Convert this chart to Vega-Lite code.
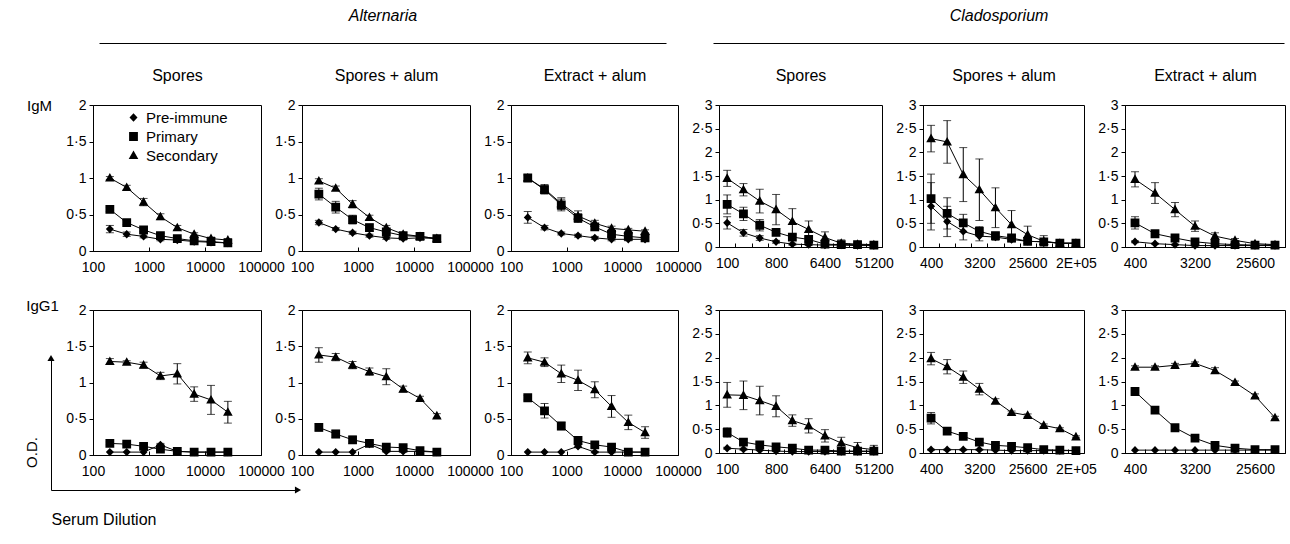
{
"$schema": "https://vega.github.io/schema/vega-lite/v6.json",
"padding": {"left": 23, "top": 6, "right": 5, "bottom": 5},
"config": {
  "font": "Liberation Sans",
  "view": {"stroke": "black", "strokeWidth": 1},
  "axis": {"grid": false, "domainColor": "black", "tickColor": "black", "labelColor": "black", "titleColor": "black", "labelFont": "Liberation Sans", "titleFont": "Liberation Sans", "labelFontSize": 14, "titleFontWeight": "normal", "domainWidth": 1, "tickWidth": 1},
  "legend": {"labelFont": "Liberation Sans", "labelColor": "black"}
},
"datasets": {
  "p1": [
    {"series":"Pre-immune","dil":200,"od":0.30,"err":0.05},{"series":"Pre-immune","dil":400,"od":0.23,"err":0.03},{"series":"Pre-immune","dil":800,"od":0.20,"err":0.02},{"series":"Pre-immune","dil":1600,"od":0.16,"err":0.02},{"series":"Pre-immune","dil":3200,"od":0.15,"err":0.02},{"series":"Pre-immune","dil":6400,"od":0.13,"err":0.01},{"series":"Pre-immune","dil":12800,"od":0.12,"err":0.01},{"series":"Pre-immune","dil":25600,"od":0.11,"err":0.01},
    {"series":"Primary","dil":200,"od":0.57,"err":0.03},{"series":"Primary","dil":400,"od":0.39,"err":0.03},{"series":"Primary","dil":800,"od":0.29,"err":0.02},{"series":"Primary","dil":1600,"od":0.21,"err":0.03},{"series":"Primary","dil":3200,"od":0.17,"err":0.02},{"series":"Primary","dil":6400,"od":0.14,"err":0.02},{"series":"Primary","dil":12800,"od":0.13,"err":0.02},{"series":"Primary","dil":25600,"od":0.11,"err":0.02},
    {"series":"Secondary","dil":200,"od":1.00,"err":0.02},{"series":"Secondary","dil":400,"od":0.87,"err":0.03},{"series":"Secondary","dil":800,"od":0.67,"err":0.05},{"series":"Secondary","dil":1600,"od":0.47,"err":0.04},{"series":"Secondary","dil":3200,"od":0.32,"err":0.03},{"series":"Secondary","dil":6400,"od":0.23,"err":0.02},{"series":"Secondary","dil":12800,"od":0.17,"err":0.02},{"series":"Secondary","dil":25600,"od":0.15,"err":0.02}
  ],
  "p2": [
    {"series":"Pre-immune","dil":200,"od":0.39,"err":0.03},{"series":"Pre-immune","dil":400,"od":0.30,"err":0.02},{"series":"Pre-immune","dil":800,"od":0.25,"err":0.02},{"series":"Pre-immune","dil":1600,"od":0.21,"err":0.02},{"series":"Pre-immune","dil":3200,"od":0.18,"err":0.02},{"series":"Pre-immune","dil":6400,"od":0.17,"err":0.02},{"series":"Pre-immune","dil":12800,"od":0.18,"err":0.02},{"series":"Pre-immune","dil":25600,"od":0.17,"err":0.02},
    {"series":"Primary","dil":200,"od":0.78,"err":0.08},{"series":"Primary","dil":400,"od":0.60,"err":0.08},{"series":"Primary","dil":800,"od":0.43,"err":0.06},{"series":"Primary","dil":1600,"od":0.32,"err":0.05},{"series":"Primary","dil":3200,"od":0.26,"err":0.03},{"series":"Primary","dil":6400,"od":0.21,"err":0.02},{"series":"Primary","dil":12800,"od":0.20,"err":0.02},{"series":"Primary","dil":25600,"od":0.17,"err":0.02},
    {"series":"Secondary","dil":200,"od":0.96,"err":0.03},{"series":"Secondary","dil":400,"od":0.86,"err":0.03},{"series":"Secondary","dil":800,"od":0.64,"err":0.05},{"series":"Secondary","dil":1600,"od":0.46,"err":0.03},{"series":"Secondary","dil":3200,"od":0.32,"err":0.03},{"series":"Secondary","dil":6400,"od":0.23,"err":0.02},{"series":"Secondary","dil":12800,"od":0.20,"err":0.02},{"series":"Secondary","dil":25600,"od":0.17,"err":0.02}
  ],
  "p3": [
    {"series":"Pre-immune","dil":200,"od":0.46,"err":0.08},{"series":"Pre-immune","dil":400,"od":0.32,"err":0.03},{"series":"Pre-immune","dil":800,"od":0.24,"err":0.02},{"series":"Pre-immune","dil":1600,"od":0.21,"err":0.02},{"series":"Pre-immune","dil":3200,"od":0.18,"err":0.02},{"series":"Pre-immune","dil":6400,"od":0.16,"err":0.02},{"series":"Pre-immune","dil":12800,"od":0.16,"err":0.02},{"series":"Pre-immune","dil":25600,"od":0.16,"err":0.02},
    {"series":"Primary","dil":200,"od":1.00,"err":0.04},{"series":"Primary","dil":400,"od":0.84,"err":0.06},{"series":"Primary","dil":800,"od":0.63,"err":0.08},{"series":"Primary","dil":1600,"od":0.45,"err":0.06},{"series":"Primary","dil":3200,"od":0.33,"err":0.04},{"series":"Primary","dil":6400,"od":0.23,"err":0.03},{"series":"Primary","dil":12800,"od":0.20,"err":0.03},{"series":"Primary","dil":25600,"od":0.18,"err":0.03},
    {"series":"Secondary","dil":200,"od":1.00,"err":0.04},{"series":"Secondary","dil":400,"od":0.85,"err":0.06},{"series":"Secondary","dil":800,"od":0.65,"err":0.08},{"series":"Secondary","dil":1600,"od":0.48,"err":0.07},{"series":"Secondary","dil":3200,"od":0.38,"err":0.04},{"series":"Secondary","dil":6400,"od":0.31,"err":0.03},{"series":"Secondary","dil":12800,"od":0.29,"err":0.02},{"series":"Secondary","dil":25600,"od":0.27,"err":0.02}
  ],
  "p4": [
    {"series":"Pre-immune","dil":100,"od":0.51,"err":0.13},{"series":"Pre-immune","dil":200,"od":0.30,"err":0.07},{"series":"Pre-immune","dil":400,"od":0.19,"err":0.05},{"series":"Pre-immune","dil":800,"od":0.11,"err":0.03},{"series":"Pre-immune","dil":1600,"od":0.06,"err":0.02},{"series":"Pre-immune","dil":3200,"od":0.05,"err":0.02},{"series":"Pre-immune","dil":6400,"od":0.04,"err":0.01},{"series":"Pre-immune","dil":12800,"od":0.04,"err":0.01},{"series":"Pre-immune","dil":25600,"od":0.03,"err":0.01},{"series":"Pre-immune","dil":51200,"od":0.03,"err":0.01},
    {"series":"Primary","dil":100,"od":0.90,"err":0.20},{"series":"Primary","dil":200,"od":0.70,"err":0.14},{"series":"Primary","dil":400,"od":0.46,"err":0.12},{"series":"Primary","dil":800,"od":0.31,"err":0.07},{"series":"Primary","dil":1600,"od":0.21,"err":0.06},{"series":"Primary","dil":3200,"od":0.16,"err":0.05},{"series":"Primary","dil":6400,"od":0.06,"err":0.03},{"series":"Primary","dil":12800,"od":0.05,"err":0.02},{"series":"Primary","dil":25600,"od":0.05,"err":0.02},{"series":"Primary","dil":51200,"od":0.04,"err":0.02},
    {"series":"Secondary","dil":100,"od":1.45,"err":0.17},{"series":"Secondary","dil":200,"od":1.21,"err":0.13},{"series":"Secondary","dil":400,"od":0.97,"err":0.25},{"series":"Secondary","dil":800,"od":0.79,"err":0.32},{"series":"Secondary","dil":1600,"od":0.54,"err":0.27},{"series":"Secondary","dil":3200,"od":0.37,"err":0.18},{"series":"Secondary","dil":6400,"od":0.20,"err":0.12},{"series":"Secondary","dil":12800,"od":0.08,"err":0.07},{"series":"Secondary","dil":25600,"od":0.06,"err":0.04},{"series":"Secondary","dil":51200,"od":0.05,"err":0.03}
  ],
  "p5": [
    {"series":"Pre-immune","dil":400,"od":0.86,"err":0.50},{"series":"Pre-immune","dil":800,"od":0.54,"err":0.32},{"series":"Pre-immune","dil":1600,"od":0.33,"err":0.18},{"series":"Pre-immune","dil":3200,"od":0.23,"err":0.10},{"series":"Pre-immune","dil":6400,"od":0.21,"err":0.07},{"series":"Pre-immune","dil":12800,"od":0.16,"err":0.05},{"series":"Pre-immune","dil":25600,"od":0.12,"err":0.04},{"series":"Pre-immune","dil":51200,"od":0.11,"err":0.03},{"series":"Pre-immune","dil":102400,"od":0.08,"err":0.02},{"series":"Pre-immune","dil":204800,"od":0.08,"err":0.02},
    {"series":"Primary","dil":400,"od":1.02,"err":0.52},{"series":"Primary","dil":800,"od":0.71,"err":0.33},{"series":"Primary","dil":1600,"od":0.51,"err":0.18},{"series":"Primary","dil":3200,"od":0.33,"err":0.10},{"series":"Primary","dil":6400,"od":0.24,"err":0.07},{"series":"Primary","dil":12800,"od":0.19,"err":0.06},{"series":"Primary","dil":25600,"od":0.12,"err":0.05},{"series":"Primary","dil":51200,"od":0.11,"err":0.04},{"series":"Primary","dil":102400,"od":0.08,"err":0.03},{"series":"Primary","dil":204800,"od":0.08,"err":0.02},
    {"series":"Secondary","dil":400,"od":2.29,"err":0.28},{"series":"Secondary","dil":800,"od":2.22,"err":0.45},{"series":"Secondary","dil":1600,"od":1.53,"err":0.57},{"series":"Secondary","dil":3200,"od":1.21,"err":0.65},{"series":"Secondary","dil":6400,"od":0.83,"err":0.42},{"series":"Secondary","dil":12800,"od":0.47,"err":0.30},{"series":"Secondary","dil":25600,"od":0.26,"err":0.18},{"series":"Secondary","dil":51200,"od":0.12,"err":0.12},{"series":"Secondary","dil":102400,"od":0.08,"err":0.05},{"series":"Secondary","dil":204800,"od":0.08,"err":0.03}
  ],
  "p6": [
    {"series":"Pre-immune","dil":400,"od":0.11,"err":0.02},{"series":"Pre-immune","dil":800,"od":0.07,"err":0.01},{"series":"Pre-immune","dil":1600,"od":0.05,"err":0.01},{"series":"Pre-immune","dil":3200,"od":0.03,"err":0.01},{"series":"Pre-immune","dil":6400,"od":0.03,"err":0.01},{"series":"Pre-immune","dil":12800,"od":0.03,"err":0.01},{"series":"Pre-immune","dil":25600,"od":0.03,"err":0.01},{"series":"Pre-immune","dil":51200,"od":0.03,"err":0.01},
    {"series":"Primary","dil":400,"od":0.51,"err":0.13},{"series":"Primary","dil":800,"od":0.28,"err":0.05},{"series":"Primary","dil":1600,"od":0.19,"err":0.03},{"series":"Primary","dil":3200,"od":0.11,"err":0.03},{"series":"Primary","dil":6400,"od":0.07,"err":0.02},{"series":"Primary","dil":12800,"od":0.05,"err":0.02},{"series":"Primary","dil":25600,"od":0.04,"err":0.01},{"series":"Primary","dil":51200,"od":0.04,"err":0.01},
    {"series":"Secondary","dil":400,"od":1.43,"err":0.16},{"series":"Secondary","dil":800,"od":1.14,"err":0.22},{"series":"Secondary","dil":1600,"od":0.79,"err":0.15},{"series":"Secondary","dil":3200,"od":0.44,"err":0.11},{"series":"Secondary","dil":6400,"od":0.23,"err":0.07},{"series":"Secondary","dil":12800,"od":0.14,"err":0.04},{"series":"Secondary","dil":25600,"od":0.07,"err":0.03},{"series":"Secondary","dil":51200,"od":0.05,"err":0.02}
  ],
  "p7": [
    {"series":"Pre-immune","dil":200,"od":0.04,"err":0},{"series":"Pre-immune","dil":400,"od":0.04,"err":0},{"series":"Pre-immune","dil":800,"od":0.04,"err":0},{"series":"Pre-immune","dil":1600,"od":0.14,"err":0.02},{"series":"Pre-immune","dil":3200,"od":0.05,"err":0.01},{"series":"Pre-immune","dil":6400,"od":0.04,"err":0},{"series":"Pre-immune","dil":12800,"od":0.04,"err":0},{"series":"Pre-immune","dil":25600,"od":0.04,"err":0},
    {"series":"Primary","dil":200,"od":0.16,"err":0.02},{"series":"Primary","dil":400,"od":0.15,"err":0.02},{"series":"Primary","dil":800,"od":0.12,"err":0.02},{"series":"Primary","dil":1600,"od":0.08,"err":0.02},{"series":"Primary","dil":3200,"od":0.05,"err":0.01},{"series":"Primary","dil":6400,"od":0.04,"err":0.01},{"series":"Primary","dil":12800,"od":0.04,"err":0.01},{"series":"Primary","dil":25600,"od":0.04,"err":0.01},
    {"series":"Secondary","dil":200,"od":1.29,"err":0.04},{"series":"Secondary","dil":400,"od":1.28,"err":0.02},{"series":"Secondary","dil":800,"od":1.24,"err":0.04},{"series":"Secondary","dil":1600,"od":1.09,"err":0.05},{"series":"Secondary","dil":3200,"od":1.12,"err":0.14},{"series":"Secondary","dil":6400,"od":0.84,"err":0.10},{"series":"Secondary","dil":12800,"od":0.76,"err":0.20},{"series":"Secondary","dil":25600,"od":0.59,"err":0.15}
  ],
  "p8": [
    {"series":"Pre-immune","dil":200,"od":0.04,"err":0},{"series":"Pre-immune","dil":400,"od":0.04,"err":0},{"series":"Pre-immune","dil":800,"od":0.04,"err":0},{"series":"Pre-immune","dil":1600,"od":0.15,"err":0.02},{"series":"Pre-immune","dil":3200,"od":0.05,"err":0.01},{"series":"Pre-immune","dil":6400,"od":0.05,"err":0.01},{"series":"Pre-immune","dil":12800,"od":0.05,"err":0.01},{"series":"Pre-immune","dil":25600,"od":0.04,"err":0.01},
    {"series":"Primary","dil":200,"od":0.38,"err":0.05},{"series":"Primary","dil":400,"od":0.29,"err":0.05},{"series":"Primary","dil":800,"od":0.21,"err":0.05},{"series":"Primary","dil":1600,"od":0.16,"err":0.04},{"series":"Primary","dil":3200,"od":0.11,"err":0.03},{"series":"Primary","dil":6400,"od":0.10,"err":0.03},{"series":"Primary","dil":12800,"od":0.06,"err":0.02},{"series":"Primary","dil":25600,"od":0.04,"err":0.02},
    {"series":"Secondary","dil":200,"od":1.38,"err":0.10},{"series":"Secondary","dil":400,"od":1.35,"err":0.05},{"series":"Secondary","dil":800,"od":1.24,"err":0.05},{"series":"Secondary","dil":1600,"od":1.15,"err":0.05},{"series":"Secondary","dil":3200,"od":1.08,"err":0.11},{"series":"Secondary","dil":6400,"od":0.91,"err":0.04},{"series":"Secondary","dil":12800,"od":0.78,"err":0.03},{"series":"Secondary","dil":25600,"od":0.54,"err":0.03}
  ],
  "p9": [
    {"series":"Pre-immune","dil":200,"od":0.04,"err":0},{"series":"Pre-immune","dil":400,"od":0.04,"err":0},{"series":"Pre-immune","dil":800,"od":0.04,"err":0},{"series":"Pre-immune","dil":1600,"od":0.12,"err":0.02},{"series":"Pre-immune","dil":3200,"od":0.04,"err":0.01},{"series":"Pre-immune","dil":6400,"od":0.04,"err":0.01},{"series":"Pre-immune","dil":12800,"od":0.04,"err":0.01},{"series":"Pre-immune","dil":25600,"od":0.04,"err":0.01},
    {"series":"Primary","dil":200,"od":0.79,"err":0.03},{"series":"Primary","dil":400,"od":0.61,"err":0.10},{"series":"Primary","dil":800,"od":0.40,"err":0.05},{"series":"Primary","dil":1600,"od":0.20,"err":0.04},{"series":"Primary","dil":3200,"od":0.14,"err":0.03},{"series":"Primary","dil":6400,"od":0.11,"err":0.03},{"series":"Primary","dil":12800,"od":0.04,"err":0.02},{"series":"Primary","dil":25600,"od":0.04,"err":0.02},
    {"series":"Secondary","dil":200,"od":1.34,"err":0.08},{"series":"Secondary","dil":400,"od":1.28,"err":0.06},{"series":"Secondary","dil":800,"od":1.12,"err":0.12},{"series":"Secondary","dil":1600,"od":1.03,"err":0.14},{"series":"Secondary","dil":3200,"od":0.90,"err":0.11},{"series":"Secondary","dil":6400,"od":0.67,"err":0.15},{"series":"Secondary","dil":12800,"od":0.45,"err":0.10},{"series":"Secondary","dil":25600,"od":0.31,"err":0.08}
  ],
  "p10": [
    {"series":"Pre-immune","dil":100,"od":0.10,"err":0.02},{"series":"Pre-immune","dil":200,"od":0.08,"err":0.02},{"series":"Pre-immune","dil":400,"od":0.06,"err":0.01},{"series":"Pre-immune","dil":800,"od":0.04,"err":0.01},{"series":"Pre-immune","dil":1600,"od":0.03,"err":0.01},{"series":"Pre-immune","dil":3200,"od":0.03,"err":0.01},{"series":"Pre-immune","dil":6400,"od":0.03,"err":0.01},{"series":"Pre-immune","dil":12800,"od":0.03,"err":0.01},{"series":"Pre-immune","dil":25600,"od":0.03,"err":0.01},{"series":"Pre-immune","dil":51200,"od":0.03,"err":0.01},
    {"series":"Primary","dil":100,"od":0.43,"err":0.10},{"series":"Primary","dil":200,"od":0.23,"err":0.06},{"series":"Primary","dil":400,"od":0.17,"err":0.04},{"series":"Primary","dil":800,"od":0.13,"err":0.04},{"series":"Primary","dil":1600,"od":0.10,"err":0.03},{"series":"Primary","dil":3200,"od":0.06,"err":0.02},{"series":"Primary","dil":6400,"od":0.06,"err":0.02},{"series":"Primary","dil":12800,"od":0.04,"err":0.02},{"series":"Primary","dil":25600,"od":0.04,"err":0.02},{"series":"Primary","dil":51200,"od":0.04,"err":0.02},
    {"series":"Secondary","dil":100,"od":1.22,"err":0.26},{"series":"Secondary","dil":200,"od":1.21,"err":0.30},{"series":"Secondary","dil":400,"od":1.10,"err":0.30},{"series":"Secondary","dil":800,"od":0.98,"err":0.22},{"series":"Secondary","dil":1600,"od":0.68,"err":0.12},{"series":"Secondary","dil":3200,"od":0.57,"err":0.15},{"series":"Secondary","dil":6400,"od":0.36,"err":0.13},{"series":"Secondary","dil":12800,"od":0.21,"err":0.12},{"series":"Secondary","dil":25600,"od":0.11,"err":0.11},{"series":"Secondary","dil":51200,"od":0.07,"err":0.09}
  ],
  "p11": [
    {"series":"Pre-immune","dil":400,"od":0.07,"err":0.01},{"series":"Pre-immune","dil":800,"od":0.07,"err":0.01},{"series":"Pre-immune","dil":1600,"od":0.07,"err":0.01},{"series":"Pre-immune","dil":3200,"od":0.07,"err":0.01},{"series":"Pre-immune","dil":6400,"od":0.06,"err":0.01},{"series":"Pre-immune","dil":12800,"od":0.05,"err":0.01},{"series":"Pre-immune","dil":25600,"od":0.05,"err":0.01},{"series":"Pre-immune","dil":51200,"od":0.05,"err":0.01},{"series":"Pre-immune","dil":102400,"od":0.05,"err":0.01},{"series":"Pre-immune","dil":204800,"od":0.05,"err":0.01},
    {"series":"Primary","dil":400,"od":0.73,"err":0.12},{"series":"Primary","dil":800,"od":0.46,"err":0.07},{"series":"Primary","dil":1600,"od":0.35,"err":0.06},{"series":"Primary","dil":3200,"od":0.23,"err":0.05},{"series":"Primary","dil":6400,"od":0.16,"err":0.04},{"series":"Primary","dil":12800,"od":0.14,"err":0.04},{"series":"Primary","dil":25600,"od":0.11,"err":0.03},{"series":"Primary","dil":51200,"od":0.07,"err":0.02},{"series":"Primary","dil":102400,"od":0.06,"err":0.02},{"series":"Primary","dil":204800,"od":0.05,"err":0.02},
    {"series":"Secondary","dil":400,"od":1.98,"err":0.13},{"series":"Secondary","dil":800,"od":1.81,"err":0.15},{"series":"Secondary","dil":1600,"od":1.59,"err":0.13},{"series":"Secondary","dil":3200,"od":1.34,"err":0.12},{"series":"Secondary","dil":6400,"od":1.09,"err":0.05},{"series":"Secondary","dil":12800,"od":0.85,"err":0.03},{"series":"Secondary","dil":25600,"od":0.79,"err":0.03},{"series":"Secondary","dil":51200,"od":0.58,"err":0.03},{"series":"Secondary","dil":102400,"od":0.51,"err":0.02},{"series":"Secondary","dil":204800,"od":0.34,"err":0.02}
  ],
  "p12": [
    {"series":"Pre-immune","dil":400,"od":0.06,"err":0},{"series":"Pre-immune","dil":800,"od":0.06,"err":0},{"series":"Pre-immune","dil":1600,"od":0.06,"err":0},{"series":"Pre-immune","dil":3200,"od":0.06,"err":0},{"series":"Pre-immune","dil":6400,"od":0.06,"err":0},{"series":"Pre-immune","dil":12800,"od":0.06,"err":0},{"series":"Pre-immune","dil":25600,"od":0.06,"err":0},{"series":"Pre-immune","dil":51200,"od":0.06,"err":0},
    {"series":"Primary","dil":400,"od":1.29,"err":0.02},{"series":"Primary","dil":800,"od":0.90,"err":0.02},{"series":"Primary","dil":1600,"od":0.53,"err":0.02},{"series":"Primary","dil":3200,"od":0.31,"err":0.02},{"series":"Primary","dil":6400,"od":0.16,"err":0.02},{"series":"Primary","dil":12800,"od":0.10,"err":0.02},{"series":"Primary","dil":25600,"od":0.07,"err":0.01},{"series":"Primary","dil":51200,"od":0.07,"err":0.01},
    {"series":"Secondary","dil":400,"od":1.80,"err":0.03},{"series":"Secondary","dil":800,"od":1.80,"err":0.03},{"series":"Secondary","dil":1600,"od":1.84,"err":0.04},{"series":"Secondary","dil":3200,"od":1.88,"err":0.03},{"series":"Secondary","dil":6400,"od":1.73,"err":0.06},{"series":"Secondary","dil":12800,"od":1.48,"err":0.03},{"series":"Secondary","dil":25600,"od":1.20,"err":0.04},{"series":"Secondary","dil":51200,"od":0.74,"err":0.03}
  ]
},
"columns": 6,
"spacing": {"row": 59, "column": 41},
"bounds": "flush",
"resolve": {"legend": {"shape": "independent"}},
"concat": [
  {"width":168,"height":146,"data":{"name":"p1"},
   "encoding":{"y":{"field":"od","type":"quantitative","scale":{"domain":[0,2]},"axis":{"values":[0,0.5,1,1.5,2],"format":"~g","labelExpr":"replace(datum.label, '.', '·')","tickSize":4,"labelPadding":3,"title":"IgM","titleAngle":0,"titleX":-54,"titleY":0,"titleAlign":"center","titleBaseline":"middle","titleFontSize":15}}},
   "layer":[
     {"encoding":{"x":{"field":"dil","type":"quantitative","scale":{"type":"log","domain":[100,100000]},"axis":{"values":[100,1000,10000,100000],"format":"d","labelFlush":false,"labelOverlap":false,"tickSize":-4,"labelPadding":13,"title":null}}},
      "layer":[
        {"mark":{"type":"line","color":"black","strokeWidth":1},"encoding":{"detail":{"field":"series","type":"nominal"}}},
        {"transform":[{"filter":"datum.err > 0"}],"mark":{"type":"errorbar","color":"black","ticks":{"size":8}},"encoding":{"yError":{"field":"err"}}},
        {"mark":{"type":"point","filled":true,"color":"black","opacity":1,"size":64},"encoding":{"shape":{"field":"series","type":"nominal","scale":{"domain":["Pre-immune","Primary","Secondary"],"range":["M-1.9,0H1.9M0,-1.05L1,0L0,1.05L-1,0Z","M-1.9,0H1.9M-1.1,-1.1H1.1V1.1H-1.1Z","M-1.9,0H1.9M0,-1.25L1.2,0.9H-1.2Z"]},
          "legend":{"orient":"none","legendX":33,"legendY":5,"title":null,"symbolSize":64,"symbolFillColor":"black","symbolStrokeColor":"black","symbolStrokeWidth":1,"labelFontSize":15,"labelOffset":5,"rowPadding":3,"padding":0,"labelColor":"black",
            "encode":{"symbols":{"update":{"stroke":{"value":"black"},"strokeWidth":{"value":1},"fill":{"value":"black"}}}}}}}}
      ]},
     {"data":{"values":[{}]},"mark":{"type":"point","opacity":0},"encoding":{"x":{"datum":0.5,"type":"quantitative","scale":{"domain":[0,1]},"axis":{"orient":"top","domain":false,"ticks":false,"labels":false,"grid":false,"title":"Spores","titleFontSize":16,"titleFontWeight":"normal","titlePadding":22}}}}
   ],
   "resolve":{"scale":{"x":"independent"},"axis":{"x":"independent"}}},

  {"width":168,"height":146,"data":{"name":"p2"},
   "encoding":{"y":{"field":"od","type":"quantitative","scale":{"domain":[0,2]},"axis":{"values":[0,0.5,1,1.5,2],"format":"~g","labelExpr":"replace(datum.label, '.', '·')","tickSize":4,"labelPadding":3,"title":null}}},
   "layer":[
     {"encoding":{"x":{"field":"dil","type":"quantitative","scale":{"type":"log","domain":[100,100000]},"axis":{"values":[100,1000,10000,100000],"format":"d","labelFlush":false,"labelOverlap":false,"tickSize":-4,"labelPadding":13,"title":null}}},
      "layer":[
        {"mark":{"type":"line","color":"black","strokeWidth":1},"encoding":{"detail":{"field":"series","type":"nominal"}}},
        {"transform":[{"filter":"datum.err > 0"}],"mark":{"type":"errorbar","color":"black","ticks":{"size":8}},"encoding":{"yError":{"field":"err"}}},
        {"mark":{"type":"point","filled":true,"color":"black","opacity":1,"size":64},"encoding":{"shape":{"field":"series","type":"nominal","scale":{"domain":["Pre-immune","Primary","Secondary"],"range":["M-1.9,0H1.9M0,-1.05L1,0L0,1.05L-1,0Z","M-1.9,0H1.9M-1.1,-1.1H1.1V1.1H-1.1Z","M-1.9,0H1.9M0,-1.25L1.2,0.9H-1.2Z"]},"legend":null}}}
      ]},
     {"data":{"values":[{}]},"mark":{"type":"point","opacity":0},"encoding":{"x":{"datum":0.5,"type":"quantitative","scale":{"domain":[0,1]},"axis":{"orient":"top","domain":false,"ticks":false,"labels":false,"grid":false,"title":"Spores + alum","titleFontSize":16,"titleFontWeight":"normal","titlePadding":22}}}},
     {"data":{"values":[{}]},"mark":{"type":"point","opacity":0},"encoding":{"x":{"datum":0.5,"type":"quantitative","scale":{"domain":[0,1],"range":[-203,364]},"axis":{"orient":"top","offset":62,"domain":true,"domainColor":"black","ticks":false,"labels":false,"grid":false,"title":"Alternaria","titleFontStyle":"italic","titleFontSize":16,"titleFontWeight":"normal","titlePadding":20}}}}
   ],
   "resolve":{"scale":{"x":"independent"},"axis":{"x":"independent"}}},

  {"width":167,"height":146,"data":{"name":"p3"},
   "encoding":{"y":{"field":"od","type":"quantitative","scale":{"domain":[0,2]},"axis":{"values":[0,0.5,1,1.5,2],"format":"~g","labelExpr":"replace(datum.label, '.', '·')","tickSize":4,"labelPadding":3,"title":null}}},
   "layer":[
     {"encoding":{"x":{"field":"dil","type":"quantitative","scale":{"type":"log","domain":[100,100000]},"axis":{"values":[100,1000,10000,100000],"format":"d","labelFlush":false,"labelOverlap":false,"tickSize":-4,"labelPadding":13,"title":null}}},
      "layer":[
        {"mark":{"type":"line","color":"black","strokeWidth":1},"encoding":{"detail":{"field":"series","type":"nominal"}}},
        {"transform":[{"filter":"datum.err > 0"}],"mark":{"type":"errorbar","color":"black","ticks":{"size":8}},"encoding":{"yError":{"field":"err"}}},
        {"mark":{"type":"point","filled":true,"color":"black","opacity":1,"size":64},"encoding":{"shape":{"field":"series","type":"nominal","scale":{"domain":["Pre-immune","Primary","Secondary"],"range":["M-1.9,0H1.9M0,-1.05L1,0L0,1.05L-1,0Z","M-1.9,0H1.9M-1.1,-1.1H1.1V1.1H-1.1Z","M-1.9,0H1.9M0,-1.25L1.2,0.9H-1.2Z"]},"legend":null}}}
      ]},
     {"data":{"values":[{}]},"mark":{"type":"point","opacity":0},"encoding":{"x":{"datum":0.5,"type":"quantitative","scale":{"domain":[0,1]},"axis":{"orient":"top","domain":false,"ticks":false,"labels":false,"grid":false,"title":"Extract + alum","titleFontSize":16,"titleFontWeight":"normal","titlePadding":22}}}}
   ],
   "resolve":{"scale":{"x":"independent"},"axis":{"x":"independent"}}},

  {"width":163,"height":142,"data":{"name":"p4"},
   "encoding":{"y":{"field":"od","type":"quantitative","scale":{"domain":[0,3]},"axis":{"values":[0,0.5,1,1.5,2,2.5,3],"format":"~g","labelExpr":"replace(datum.label, '.', '·')","tickSize":4,"labelPadding":3,"title":null}}},
   "layer":[
     {"encoding":{"x":{"field":"dil","type":"ordinal","scale":{"type":"band","paddingInner":0,"paddingOuter":0},"axis":{"labelAngle":0,"tickBand":"extent","tickSize":-4,"labelPadding":13,"labelOverlap":false,"title":null,"labelExpr":"indexof([100,800,6400,51200], datum.value) >= 0 ? datum.label : ''"}}},
      "layer":[
        {"mark":{"type":"line","color":"black","strokeWidth":1},"encoding":{"detail":{"field":"series","type":"nominal"}}},
        {"transform":[{"filter":"datum.err > 0"}],"mark":{"type":"errorbar","color":"black","ticks":{"size":8}},"encoding":{"yError":{"field":"err"}}},
        {"mark":{"type":"point","filled":true,"color":"black","opacity":1,"size":64},"encoding":{"shape":{"field":"series","type":"nominal","scale":{"domain":["Pre-immune","Primary","Secondary"],"range":["M-1.9,0H1.9M0,-1.05L1,0L0,1.05L-1,0Z","M-1.9,0H1.9M-1.1,-1.1H1.1V1.1H-1.1Z","M-1.9,0H1.9M0,-1.25L1.2,0.9H-1.2Z"]},"legend":null}}}
      ]},
     {"data":{"values":[{}]},"mark":{"type":"point","opacity":0},"encoding":{"x":{"datum":0.5,"type":"quantitative","scale":{"domain":[0,1]},"axis":{"orient":"top","domain":false,"ticks":false,"labels":false,"grid":false,"title":"Spores","titleFontSize":16,"titleFontWeight":"normal","titlePadding":22}}}}
   ],
   "resolve":{"scale":{"x":"independent"},"axis":{"x":"independent"}}},

  {"width":161,"height":142,"data":{"name":"p5"},
   "encoding":{"y":{"field":"od","type":"quantitative","scale":{"domain":[0,3]},"axis":{"values":[0,0.5,1,1.5,2,2.5,3],"format":"~g","labelExpr":"replace(datum.label, '.', '·')","tickSize":4,"labelPadding":3,"title":null}}},
   "layer":[
     {"encoding":{"x":{"field":"dil","type":"ordinal","scale":{"type":"band","paddingInner":0,"paddingOuter":0},"axis":{"labelAngle":0,"tickBand":"extent","tickSize":-4,"labelPadding":13,"labelOverlap":false,"title":null,"labelExpr":"datum.value == 204800 ? '2E+05' : (indexof([400,3200,25600], datum.value) >= 0 ? datum.label : '')"}}},
      "layer":[
        {"mark":{"type":"line","color":"black","strokeWidth":1},"encoding":{"detail":{"field":"series","type":"nominal"}}},
        {"transform":[{"filter":"datum.err > 0"}],"mark":{"type":"errorbar","color":"black","ticks":{"size":8}},"encoding":{"yError":{"field":"err"}}},
        {"mark":{"type":"point","filled":true,"color":"black","opacity":1,"size":64},"encoding":{"shape":{"field":"series","type":"nominal","scale":{"domain":["Pre-immune","Primary","Secondary"],"range":["M-1.9,0H1.9M0,-1.05L1,0L0,1.05L-1,0Z","M-1.9,0H1.9M-1.1,-1.1H1.1V1.1H-1.1Z","M-1.9,0H1.9M0,-1.25L1.2,0.9H-1.2Z"]},"legend":null}}}
      ]},
     {"data":{"values":[{}]},"mark":{"type":"point","opacity":0},"encoding":{"x":{"datum":0.5,"type":"quantitative","scale":{"domain":[0,1]},"axis":{"orient":"top","domain":false,"ticks":false,"labels":false,"grid":false,"title":"Spores + alum","titleFontSize":16,"titleFontWeight":"normal","titlePadding":22}}}},
     {"data":{"values":[{}]},"mark":{"type":"point","opacity":0},"encoding":{"x":{"datum":0.5,"type":"quantitative","scale":{"domain":[0,1],"range":[-210,361]},"axis":{"orient":"top","offset":62,"domain":true,"domainColor":"black","ticks":false,"labels":false,"grid":false,"title":"Cladosporium","titleFontStyle":"italic","titleFontSize":16,"titleFontWeight":"normal","titlePadding":20}}}}
   ],
   "resolve":{"scale":{"x":"independent"},"axis":{"x":"independent"}}},

  {"width":160,"height":142,"data":{"name":"p6"},
   "encoding":{"y":{"field":"od","type":"quantitative","scale":{"domain":[0,3]},"axis":{"values":[0,0.5,1,1.5,2,2.5,3],"format":"~g","labelExpr":"replace(datum.label, '.', '·')","tickSize":4,"labelPadding":3,"title":null}}},
   "layer":[
     {"encoding":{"x":{"field":"dil","type":"ordinal","scale":{"type":"band","paddingInner":0,"paddingOuter":0},"axis":{"labelAngle":0,"tickBand":"extent","tickSize":-4,"labelPadding":13,"labelOverlap":false,"title":null,"labelExpr":"indexof([400,3200,25600], datum.value) >= 0 ? datum.label : ''"}}},
      "layer":[
        {"mark":{"type":"line","color":"black","strokeWidth":1},"encoding":{"detail":{"field":"series","type":"nominal"}}},
        {"transform":[{"filter":"datum.err > 0"}],"mark":{"type":"errorbar","color":"black","ticks":{"size":8}},"encoding":{"yError":{"field":"err"}}},
        {"mark":{"type":"point","filled":true,"color":"black","opacity":1,"size":64},"encoding":{"shape":{"field":"series","type":"nominal","scale":{"domain":["Pre-immune","Primary","Secondary"],"range":["M-1.9,0H1.9M0,-1.05L1,0L0,1.05L-1,0Z","M-1.9,0H1.9M-1.1,-1.1H1.1V1.1H-1.1Z","M-1.9,0H1.9M0,-1.25L1.2,0.9H-1.2Z"]},"legend":null}}}
      ]},
     {"data":{"values":[{}]},"mark":{"type":"point","opacity":0},"encoding":{"x":{"datum":0.5,"type":"quantitative","scale":{"domain":[0,1]},"axis":{"orient":"top","domain":false,"ticks":false,"labels":false,"grid":false,"title":"Extract + alum","titleFontSize":16,"titleFontWeight":"normal","titlePadding":22}}}}
   ],
   "resolve":{"scale":{"x":"independent"},"axis":{"x":"independent"}}},

  {"width":168,"height":145,"data":{"name":"p7"},
   "layer":[
     {"encoding":{
        "x":{"field":"dil","type":"quantitative","scale":{"type":"log","domain":[100,100000]},"axis":{"values":[100,1000,10000,100000],"format":"d","labelFlush":false,"labelOverlap":false,"tickSize":-4,"labelPadding":13,"title":null}},
        "y":{"field":"od","type":"quantitative","scale":{"domain":[0,2]},"axis":{"values":[0,0.5,1,1.5,2],"format":"~g","labelExpr":"replace(datum.label, '.', '·')","tickSize":4,"labelPadding":3,"title":"IgG1","titleAngle":0,"titleX":-51,"titleY":-5,"titleAlign":"center","titleBaseline":"middle","titleFontSize":15}}},
      "layer":[
        {"mark":{"type":"line","color":"black","strokeWidth":1},"encoding":{"detail":{"field":"series","type":"nominal"}}},
        {"transform":[{"filter":"datum.err > 0"}],"mark":{"type":"errorbar","color":"black","ticks":{"size":8}},"encoding":{"yError":{"field":"err"}}},
        {"mark":{"type":"point","filled":true,"color":"black","opacity":1,"size":64},"encoding":{"shape":{"field":"series","type":"nominal","scale":{"domain":["Pre-immune","Primary","Secondary"],"range":["M-1.9,0H1.9M0,-1.05L1,0L0,1.05L-1,0Z","M-1.9,0H1.9M-1.1,-1.1H1.1V1.1H-1.1Z","M-1.9,0H1.9M0,-1.25L1.2,0.9H-1.2Z"]},"legend":null}}}
      ]},
     {"layer":[
       {"data":{"values":[{}]},"mark":{"type":"point","shape":"triangle-up","filled":true,"color":"black","opacity":1,"size":50},
        "encoding":{
          "x":{"datum":0,"type":"quantitative","scale":{"domain":[0,1],"range":[-42,205]},"axis":{"orient":"bottom","offset":35,"domain":true,"domainColor":"black","ticks":false,"labels":false,"grid":false,"title":"Serum Dilution","titleAnchor":"start","titleAlign":"left","titleFontSize":16,"titleFontWeight":"normal","titlePadding":21}},
          "y":{"datum":1,"type":"quantitative","scale":{"domain":[0,1],"range":[180,48]},"axis":{"orient":"left","offset":42,"domain":true,"domainColor":"black","ticks":false,"labels":false,"grid":false,"title":"O.D.","titleAngle":-90,"titleX":-12,"titleY":142,"titleAlign":"center","titleBaseline":"bottom","titleFontSize":15,"titleFontWeight":"normal"}}}},
       {"data":{"values":[{}]},"mark":{"type":"point","shape":"triangle-right","filled":true,"color":"black","opacity":1,"size":50},
        "encoding":{
          "x":{"datum":1,"type":"quantitative","scale":{"domain":[0,1],"range":[-42,205]},"axis":{"orient":"bottom","offset":35,"domain":true,"domainColor":"black","ticks":false,"labels":false,"grid":false,"title":"Serum Dilution","titleAnchor":"start","titleAlign":"left","titleFontSize":16,"titleFontWeight":"normal","titlePadding":21}},
          "y":{"datum":0,"type":"quantitative","scale":{"domain":[0,1],"range":[180,48]},"axis":{"orient":"left","offset":42,"domain":true,"domainColor":"black","ticks":false,"labels":false,"grid":false,"title":"O.D.","titleAngle":-90,"titleX":-12,"titleY":142,"titleAlign":"center","titleBaseline":"bottom","titleFontSize":15,"titleFontWeight":"normal"}}}}
     ]}
   ],
   "resolve":{"scale":{"x":"independent","y":"independent"},"axis":{"x":"independent","y":"independent"}}},

  {"width":168,"height":145,"data":{"name":"p8"},
   "encoding":{
      "x":{"field":"dil","type":"quantitative","scale":{"type":"log","domain":[100,100000]},"axis":{"values":[100,1000,10000,100000],"format":"d","labelFlush":false,"labelOverlap":false,"tickSize":-4,"labelPadding":13,"title":null}},
      "y":{"field":"od","type":"quantitative","scale":{"domain":[0,2]},"axis":{"values":[0,0.5,1,1.5,2],"format":"~g","labelExpr":"replace(datum.label, '.', '·')","tickSize":4,"labelPadding":3,"title":null}}},
   "layer":[
      {"mark":{"type":"line","color":"black","strokeWidth":1},"encoding":{"detail":{"field":"series","type":"nominal"}}},
      {"transform":[{"filter":"datum.err > 0"}],"mark":{"type":"errorbar","color":"black","ticks":{"size":8}},"encoding":{"yError":{"field":"err"}}},
      {"mark":{"type":"point","filled":true,"color":"black","opacity":1,"size":64},"encoding":{"shape":{"field":"series","type":"nominal","scale":{"domain":["Pre-immune","Primary","Secondary"],"range":["M-1.9,0H1.9M0,-1.05L1,0L0,1.05L-1,0Z","M-1.9,0H1.9M-1.1,-1.1H1.1V1.1H-1.1Z","M-1.9,0H1.9M0,-1.25L1.2,0.9H-1.2Z"]},"legend":null}}}
   ]},

  {"width":167,"height":145,"data":{"name":"p9"},
   "encoding":{
      "x":{"field":"dil","type":"quantitative","scale":{"type":"log","domain":[100,100000]},"axis":{"values":[100,1000,10000,100000],"format":"d","labelFlush":false,"labelOverlap":false,"tickSize":-4,"labelPadding":13,"title":null}},
      "y":{"field":"od","type":"quantitative","scale":{"domain":[0,2]},"axis":{"values":[0,0.5,1,1.5,2],"format":"~g","labelExpr":"replace(datum.label, '.', '·')","tickSize":4,"labelPadding":3,"title":null}}},
   "layer":[
      {"mark":{"type":"line","color":"black","strokeWidth":1},"encoding":{"detail":{"field":"series","type":"nominal"}}},
      {"transform":[{"filter":"datum.err > 0"}],"mark":{"type":"errorbar","color":"black","ticks":{"size":8}},"encoding":{"yError":{"field":"err"}}},
      {"mark":{"type":"point","filled":true,"color":"black","opacity":1,"size":64},"encoding":{"shape":{"field":"series","type":"nominal","scale":{"domain":["Pre-immune","Primary","Secondary"],"range":["M-1.9,0H1.9M0,-1.05L1,0L0,1.05L-1,0Z","M-1.9,0H1.9M-1.1,-1.1H1.1V1.1H-1.1Z","M-1.9,0H1.9M0,-1.25L1.2,0.9H-1.2Z"]},"legend":null}}}
   ]},

  {"width":163,"height":143,"data":{"name":"p10"},
   "encoding":{
      "x":{"field":"dil","type":"ordinal","scale":{"type":"band","paddingInner":0,"paddingOuter":0},"axis":{"labelAngle":0,"tickBand":"extent","tickSize":-4,"labelPadding":13,"labelOverlap":false,"title":null,"labelExpr":"indexof([100,800,6400,51200], datum.value) >= 0 ? datum.label : ''"}},
      "y":{"field":"od","type":"quantitative","scale":{"domain":[0,3]},"axis":{"values":[0,0.5,1,1.5,2,2.5,3],"format":"~g","labelExpr":"replace(datum.label, '.', '·')","tickSize":4,"labelPadding":3,"title":null}}},
   "layer":[
      {"mark":{"type":"line","color":"black","strokeWidth":1},"encoding":{"detail":{"field":"series","type":"nominal"}}},
      {"transform":[{"filter":"datum.err > 0"}],"mark":{"type":"errorbar","color":"black","ticks":{"size":8}},"encoding":{"yError":{"field":"err"}}},
      {"mark":{"type":"point","filled":true,"color":"black","opacity":1,"size":64},"encoding":{"shape":{"field":"series","type":"nominal","scale":{"domain":["Pre-immune","Primary","Secondary"],"range":["M-1.9,0H1.9M0,-1.05L1,0L0,1.05L-1,0Z","M-1.9,0H1.9M-1.1,-1.1H1.1V1.1H-1.1Z","M-1.9,0H1.9M0,-1.25L1.2,0.9H-1.2Z"]},"legend":null}}}
   ]},

  {"width":161,"height":143,"data":{"name":"p11"},
   "encoding":{
      "x":{"field":"dil","type":"ordinal","scale":{"type":"band","paddingInner":0,"paddingOuter":0},"axis":{"labelAngle":0,"tickBand":"extent","tickSize":-4,"labelPadding":13,"labelOverlap":false,"title":null,"labelExpr":"datum.value == 204800 ? '2E+05' : (indexof([400,3200,25600], datum.value) >= 0 ? datum.label : '')"}},
      "y":{"field":"od","type":"quantitative","scale":{"domain":[0,3]},"axis":{"values":[0,0.5,1,1.5,2,2.5,3],"format":"~g","labelExpr":"replace(datum.label, '.', '·')","tickSize":4,"labelPadding":3,"title":null}}},
   "layer":[
      {"mark":{"type":"line","color":"black","strokeWidth":1},"encoding":{"detail":{"field":"series","type":"nominal"}}},
      {"transform":[{"filter":"datum.err > 0"}],"mark":{"type":"errorbar","color":"black","ticks":{"size":8}},"encoding":{"yError":{"field":"err"}}},
      {"mark":{"type":"point","filled":true,"color":"black","opacity":1,"size":64},"encoding":{"shape":{"field":"series","type":"nominal","scale":{"domain":["Pre-immune","Primary","Secondary"],"range":["M-1.9,0H1.9M0,-1.05L1,0L0,1.05L-1,0Z","M-1.9,0H1.9M-1.1,-1.1H1.1V1.1H-1.1Z","M-1.9,0H1.9M0,-1.25L1.2,0.9H-1.2Z"]},"legend":null}}}
   ]},

  {"width":160,"height":143,"data":{"name":"p12"},
   "encoding":{
      "x":{"field":"dil","type":"ordinal","scale":{"type":"band","paddingInner":0,"paddingOuter":0},"axis":{"labelAngle":0,"tickBand":"extent","tickSize":-4,"labelPadding":13,"labelOverlap":false,"title":null,"labelExpr":"indexof([400,3200,25600], datum.value) >= 0 ? datum.label : ''"}},
      "y":{"field":"od","type":"quantitative","scale":{"domain":[0,3]},"axis":{"values":[0,0.5,1,1.5,2,2.5,3],"format":"~g","labelExpr":"replace(datum.label, '.', '·')","tickSize":4,"labelPadding":3,"title":null}}},
   "layer":[
      {"mark":{"type":"line","color":"black","strokeWidth":1},"encoding":{"detail":{"field":"series","type":"nominal"}}},
      {"transform":[{"filter":"datum.err > 0"}],"mark":{"type":"errorbar","color":"black","ticks":{"size":8}},"encoding":{"yError":{"field":"err"}}},
      {"mark":{"type":"point","filled":true,"color":"black","opacity":1,"size":64},"encoding":{"shape":{"field":"series","type":"nominal","scale":{"domain":["Pre-immune","Primary","Secondary"],"range":["M-1.9,0H1.9M0,-1.05L1,0L0,1.05L-1,0Z","M-1.9,0H1.9M-1.1,-1.1H1.1V1.1H-1.1Z","M-1.9,0H1.9M0,-1.25L1.2,0.9H-1.2Z"]},"legend":null}}}
   ]}
]
}
